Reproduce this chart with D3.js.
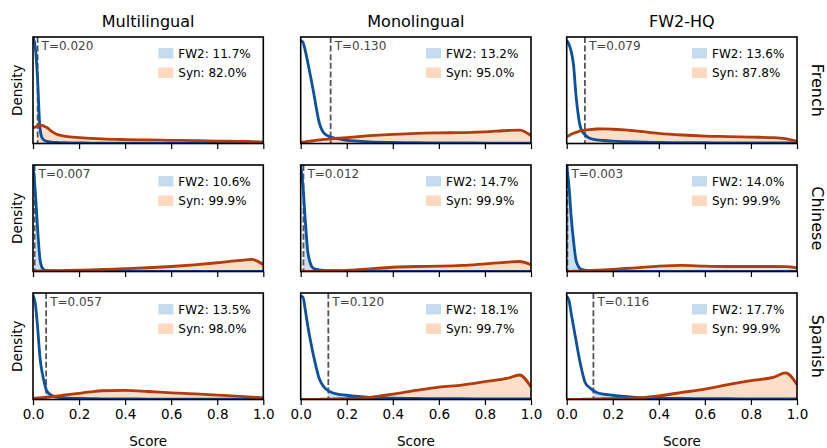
<!DOCTYPE html>
<meta charset="utf-8">
<script src="https://d3js.org/d3.v7.min.js"></script>
<style>
body { margin: 0; background: #fff; }
text { font-family: "DejaVu Sans", sans-serif; }
.spine { fill: none; stroke: #000; stroke-width: 1.6px; }
.tick line { stroke: #000; stroke-width: 1.2px; }
.tick text { font-size: 13.5px; fill: #000; }
</style>
<svg width="827" height="448"></svg>
<script>

var xs = [0, 0.01, 0.02, 0.03, 0.04, 0.05, 0.06, 0.08, 0.1, 0.13, 0.16, 0.2, 0.25, 0.3, 0.4, 0.5, 0.6, 0.7, 0.8, 0.9, 0.95, 1.0];

var models = ["Multilingual", "Monolingual", "FW2-HQ"];
var langs = ["French", "Chinese", "Spanish"];

// thresholds and % above threshold
var thresholds = [[0.020, 0.130, 0.079], [0.007, 0.012, 0.003], [0.057, 0.120, 0.116]];
var fw2Pct = [[11.7, 13.2, 13.6], [10.6, 14.7, 14.0], [13.5, 18.1, 17.7]];
var synPct = [[82.0, 95.0, 87.8], [99.9, 99.9, 99.9], [98.0, 99.7, 99.9]];

// densities (relative, panel max = 100), one array per language/model
var fw2French = [
  [100, 90, 60, 15, 5, 3, 2, 1.3, 1, 0.8, 0.6, 0.5, 0.4, 0.3, 0.3, 0.2, 0.2, 0.2, 0.2, 0.2, 0.2, 0.2],
  [97, 95, 87, 77, 66, 55, 43, 20, 10, 6, 4.5, 3, 2.2, 1.5, 1, 0.8, 0.6, 0.5, 0.4, 0.3, 0.3, 0.3],
  [97, 93, 86, 73, 46, 27, 15, 8, 5, 3.5, 2.8, 2.2, 1.7, 1.4, 1, 0.8, 0.7, 0.6, 0.5, 0.5, 0.5, 0.5]
];
var synFrench = [
  [14.6, 15.5, 16.5, 17, 17, 16, 15, 11.5, 9, 7.2, 6.2, 5.5, 4.8, 4.3, 3.7, 3.3, 3, 2.7, 2.3, 2, 1.8, 1.5],
  [1, 1.3, 1.6, 1.9, 2.2, 2.5, 2.8, 3.3, 3.8, 4.4, 5, 5.6, 6.5, 7.3, 8.6, 9.6, 10, 10.2, 11, 12.2, 12.6, 7.5],
  [6.5, 7.5, 8.6, 9.6, 10.5, 11.2, 11.8, 12.6, 13.1, 13.6, 13.7, 13.4, 12.7, 11.8, 9.5, 8, 7, 6.5, 6, 5.5, 4.5, 2]
];
var fw2Chinese = [
  [100, 75, 40, 12, 3.5, 1.5, 1, 0.6, 0.5, 0.4, 0.3, 0.3, 0.2, 0.2, 0.2, 0.2, 0.2, 0.2, 0.2, 0.2, 0.2, 0.2],
  [100, 80, 48, 20, 9, 4, 2.5, 1.5, 1, 0.7, 0.5, 0.4, 0.3, 0.3, 0.2, 0.2, 0.2, 0.2, 0.2, 0.2, 0.2, 0.2],
  [100, 80, 50, 28, 11, 5, 2.5, 1.2, 0.8, 0.5, 0.4, 0.3, 0.2, 0.2, 0.2, 0.2, 0.2, 0.2, 0.2, 0.2, 0.2, 0.2]
];
var synChinese = [
  [0.5, 0.5, 0.5, 0.6, 0.6, 0.6, 0.7, 0.7, 0.8, 0.9, 1, 1.3, 1.6, 1.9, 2.6, 3.5, 4.7, 6.3, 8.2, 10.4, 11.3, 6.3],
  [0.1, 0.1, 0.1, 0.2, 0.2, 0.2, 0.3, 0.4, 0.5, 0.7, 0.8, 1, 1.7, 2.5, 4, 4.7, 5, 5.7, 7.2, 8.8, 9.4, 6.3],
  [0.2, 0.2, 0.2, 0.3, 0.3, 0.4, 0.5, 0.7, 0.9, 1.2, 1.5, 2, 2.8, 3.5, 5, 5.7, 5, 4.7, 4.7, 4.7, 4.5, 3.5]
];
var fw2Spanish = [
  [98, 90, 68, 40, 25, 15, 8, 4, 2.5, 1.7, 1.3, 1, 0.8, 0.6, 0.5, 0.4, 0.3, 0.3, 0.3, 0.3, 0.3, 0.3],
  [97, 96, 84, 70, 58, 47, 37, 20, 12, 7, 5, 4, 2.8, 2, 1.3, 1, 0.8, 0.7, 0.6, 0.5, 0.5, 0.5],
  [97, 93, 80, 68, 56, 44, 33, 16, 11, 6.5, 5, 4, 2.8, 2, 1.3, 1, 0.8, 0.7, 0.6, 0.5, 0.5, 0.5]
];
var synSpanish = [
  [1, 1.2, 1.4, 1.6, 1.8, 2, 2.3, 2.7, 3.2, 4, 4.8, 5.8, 7.2, 8.2, 8.5, 7.5, 6.3, 5.3, 4.2, 3, 2.3, 1.5],
  [0, 0, 0, 0, 0.1, 0.1, 0.1, 0.2, 0.3, 0.4, 0.6, 0.8, 1.3, 2, 5, 8.5, 11.7, 13.6, 16.8, 20, 23, 11.7],
  [0, 0, 0, 0, 0.1, 0.2, 0.2, 0.3, 0.4, 0.5, 0.7, 0.9, 1.1, 1.4, 3.5, 6.6, 9.8, 14, 17.8, 21, 25, 14]
];

var fw2Dens = [fw2French, fw2Chinese, fw2Spanish];
var synDens = [synFrench, synChinese, synSpanish];

var ticks = [0, 0.2, 0.4, 0.6, 0.8, 1.0];

// layout
var colX = [33, 300.7, 566.7], panelW = 230.3;
var rowY = [37, 165, 293], panelH = 106.5;

var blue = "#0a52a0", orange = "#b23c0b";
var blueFill = "#c6dcee", orangeFill = "#fdd9bf";

var svg = d3.select("svg");
var defs = svg.append("defs");

var x = d3.scaleLinear().domain([0, 1]).range([0, panelW]);
var y = d3.scaleLinear().domain([0, 100]).range([panelH, 0]);

for (var r = 0; r < 3; r++) {
  for (var c = 0; c < 3; c++) {
    var g = svg.append("g").attr("transform", "translate(" + colX[c] + "," + rowY[r] + ")");
    var T = thresholds[r][c];
    var id = "p" + r + c;

    defs.append("clipPath").attr("id", id)
      .append("rect").attr("width", panelW).attr("height", panelH);
    defs.append("clipPath").attr("id", id + "t")
      .append("rect").attr("x", x(T)).attr("width", panelW - x(T)).attr("height", panelH);

    var fw2 = xs.map(function(v, i) { return [v, fw2Dens[r][c][i]]; });
    var syn = xs.map(function(v, i) { return [v, synDens[r][c][i]]; });

    var area = d3.area().curve(d3.curveMonotoneX)
      .x(function(d) { return x(d[0]); })
      .y0(panelH)
      .y1(function(d) { return y(d[1]); });
    var line = d3.line().curve(d3.curveMonotoneX)
      .x(function(d) { return x(d[0]); })
      .y(function(d) { return y(d[1]); });

    // shaded part above the threshold
    var fills = g.append("g").attr("clip-path", "url(#" + id + "t)");
    fills.append("path").attr("d", area(fw2)).attr("fill", blueFill).attr("fill-opacity", 0.85);
    fills.append("path").attr("d", area(syn)).attr("fill", orangeFill).attr("fill-opacity", 0.85);

    g.append("line")
      .attr("x1", x(T)).attr("x2", x(T))
      .attr("y1", 0).attr("y2", panelH)
      .attr("stroke", "#555").attr("stroke-width", 1.8)
      .attr("stroke-dasharray", "6,2.6");

    var lines = g.append("g").attr("clip-path", "url(#" + id + ")");
    lines.append("path").attr("d", line(fw2)).attr("fill", "none")
      .attr("stroke", blue).attr("stroke-width", 2.8);
    lines.append("path").attr("d", line(syn)).attr("fill", "none")
      .attr("stroke", orange).attr("stroke-width", 2.8);

    g.append("text")
      .attr("x", x(T) + 4).attr("y", 13)
      .style("font-size", "12px").attr("fill", "#444")
      .text("T=" + T.toFixed(3));

    // legend
    var leg = g.append("g").attr("transform", "translate(" + (panelW - 105) + ",0)");
    leg.append("rect").attr("x", 0).attr("y", 11).attr("width", 15).attr("height", 10.5).attr("fill", blueFill);
    leg.append("rect").attr("x", 0).attr("y", 30.5).attr("width", 15).attr("height", 10.5).attr("fill", orangeFill);
    leg.append("text").attr("x", 20).attr("y", 20.5).style("font-size", "12px")
      .text("FW2: " + fw2Pct[r][c].toFixed(1) + "%");
    leg.append("text").attr("x", 20).attr("y", 40).style("font-size", "12px")
      .text("Syn: " + synPct[r][c].toFixed(1) + "%");

    var ax = g.append("g").attr("transform", "translate(0," + panelH + ")")
      .call(d3.axisBottom(x).tickValues(ticks).tickSize(5.5).tickPadding(4)
        .tickFormat(r == 2 ? d3.format(".1f") : function() { return ""; }));
    ax.select(".domain").remove();

    g.append("rect").attr("class", "spine").attr("width", panelW).attr("height", panelH);

    if (r == 0) {
      svg.append("text")
        .attr("x", colX[c] + panelW / 2).attr("y", 26.5)
        .attr("text-anchor", "middle").style("font-size", "16px")
        .text(models[c]);
    }
    if (r == 2) {
      svg.append("text")
        .attr("x", colX[c] + panelW / 2).attr("y", 446)
        .attr("text-anchor", "middle").style("font-size", "13.5px")
        .text("Score");
    }
    if (c == 0) {
      svg.append("text")
        .attr("transform", "translate(22," + (rowY[r] + panelH / 2) + ") rotate(-90)")
        .attr("text-anchor", "middle").style("font-size", "13.5px")
        .text("Density");
    }
    if (c == 2) {
      svg.append("text")
        .attr("transform", "translate(812," + (rowY[r] + panelH / 2) + ") rotate(90)")
        .attr("text-anchor", "middle").style("font-size", "16px")
        .text(langs[r]);
    }
  }
}

</script>
